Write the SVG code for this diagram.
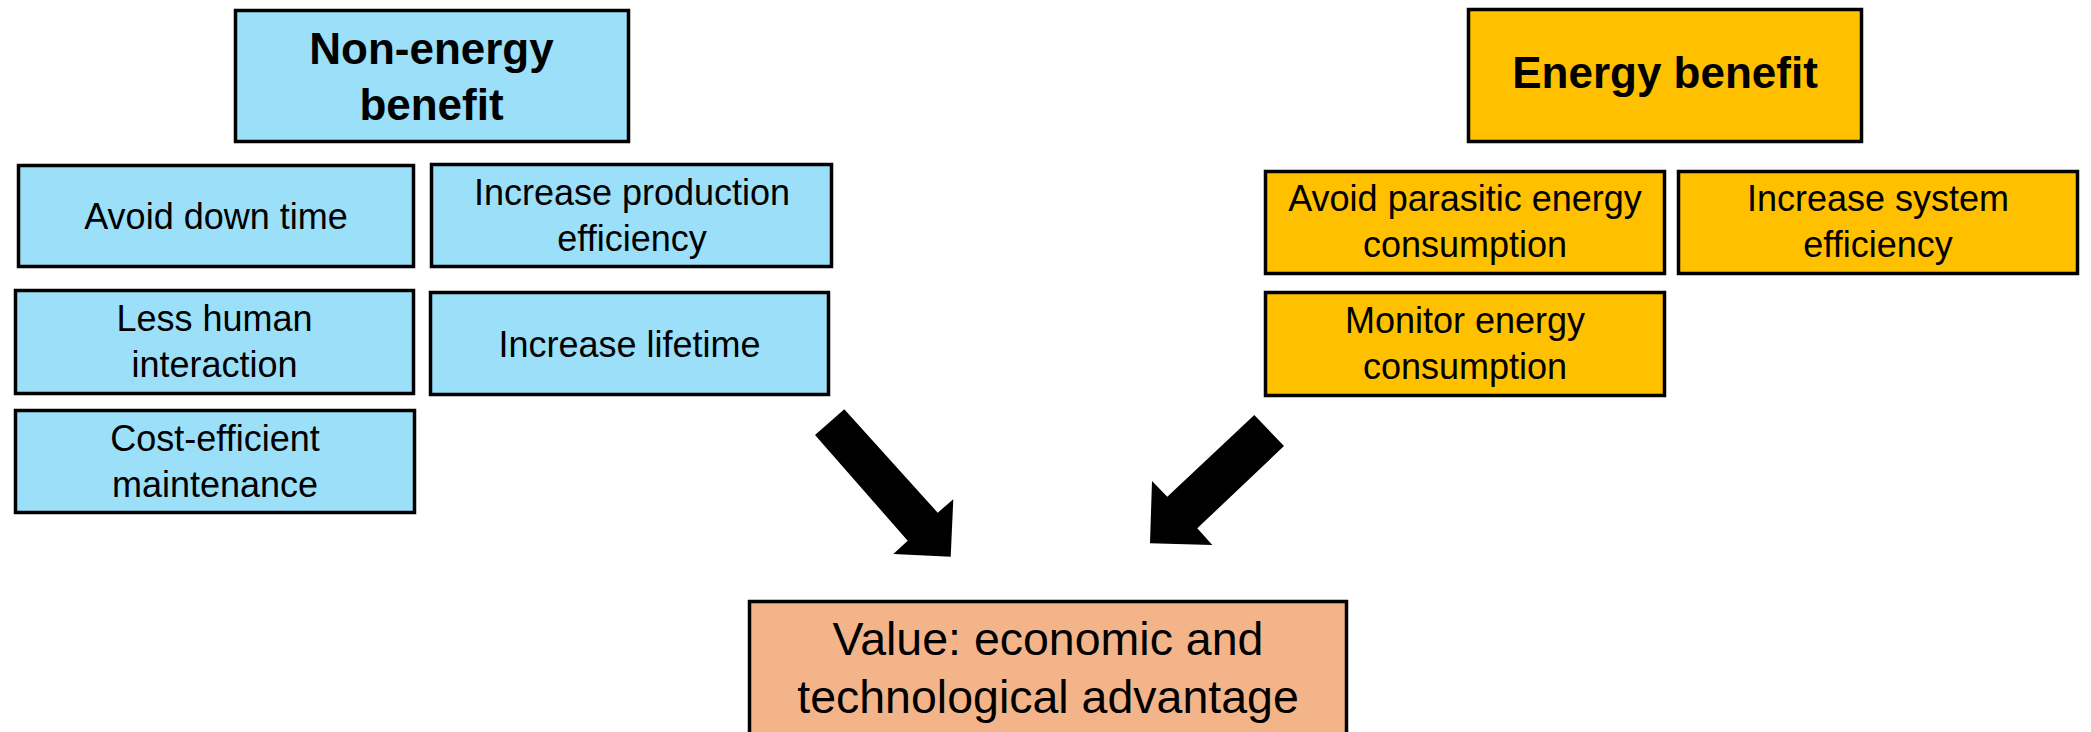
<svg xmlns="http://www.w3.org/2000/svg" width="2091" height="732" viewBox="0 0 2091 732">
  <style>
    .box { stroke: #000; stroke-width: 3.5; }
    .blue { fill: #9BDFF8; }
    .gold { fill: #FFC000; }
    .peach { fill: #F4B48A; }
    .item { font-family: "Liberation Sans", Arial, sans-serif; font-size: 36px; fill: #000; text-anchor: middle; }
    .head { font-family: "Liberation Sans", Arial, sans-serif; font-size: 44px; font-weight: bold; fill: #000; text-anchor: middle; }
    .value { font-family: "Liberation Sans", Arial, sans-serif; font-size: 46.5px; fill: #000; text-anchor: middle; }
    .arrow { fill: #000; }
  </style>
  <rect width="2091" height="732" fill="#fff"/>

  <!-- Non-energy side -->
  <g id="non-energy-benefit">
    <rect class="box blue" x="235.5" y="10.5" width="393" height="131"/>
    <text class="head" x="431.5" y="64">Non-energy</text>
    <text class="head" x="431.5" y="120">benefit</text>
  </g>
  <g id="avoid-down-time">
    <rect class="box blue" x="18.5" y="165.5" width="395" height="101"/>
    <text class="item" x="216" y="229">Avoid down time</text>
  </g>
  <g id="increase-production-efficiency">
    <rect class="box blue" x="431.5" y="164.5" width="400" height="102"/>
    <text class="item" x="632" y="205">Increase production</text>
    <text class="item" x="632" y="251">efficiency</text>
  </g>
  <g id="less-human-interaction">
    <rect class="box blue" x="15.5" y="290.5" width="398" height="103"/>
    <text class="item" x="214.5" y="331">Less human</text>
    <text class="item" x="214.5" y="377">interaction</text>
  </g>
  <g id="increase-lifetime">
    <rect class="box blue" x="430.5" y="292.5" width="398" height="102"/>
    <text class="item" x="629.5" y="356.5">Increase lifetime</text>
  </g>
  <g id="cost-efficient-maintenance">
    <rect class="box blue" x="15.5" y="410.5" width="399" height="102"/>
    <text class="item" x="215" y="450.5">Cost-efficient</text>
    <text class="item" x="215" y="496.5">maintenance</text>
  </g>

  <!-- Energy side -->
  <g id="energy-benefit">
    <rect class="box gold" x="1468.5" y="9.5" width="393" height="132"/>
    <text class="head" x="1665" y="88">Energy benefit</text>
  </g>
  <g id="avoid-parasitic-energy-consumption">
    <rect class="box gold" x="1265.5" y="171.5" width="399" height="102"/>
    <text class="item" x="1465" y="211">Avoid parasitic energy</text>
    <text class="item" x="1465" y="257">consumption</text>
  </g>
  <g id="increase-system-efficiency">
    <rect class="box gold" x="1678.5" y="171.5" width="399" height="102"/>
    <text class="item" x="1878" y="211">Increase system</text>
    <text class="item" x="1878" y="257">efficiency</text>
  </g>
  <g id="monitor-energy-consumption">
    <rect class="box gold" x="1265.5" y="292.5" width="399" height="103"/>
    <text class="item" x="1465" y="333">Monitor energy</text>
    <text class="item" x="1465" y="379">consumption</text>
  </g>

  <!-- Outcome -->
  <g id="value">
    <rect class="box peach" x="749.5" y="601.5" width="597" height="160"/>
    <text class="value" x="1048" y="655">Value: economic and</text>
    <text class="value" x="1048" y="713">technological advantage</text>
  </g>

  <!-- Block arrows into the outcome -->
  <g id="connectors">
    <polygon class="arrow" points="844.3,409.3 937.7,512.7 953.3,499.3 950.7,556.7 893.3,554 907.7,540.7 815,435"/>
    <polygon class="arrow" points="1254.3,415 1284,446 1197.3,528.3 1212.3,545 1150,543.3 1152,481 1167.3,496.7"/>
  </g>
</svg>
